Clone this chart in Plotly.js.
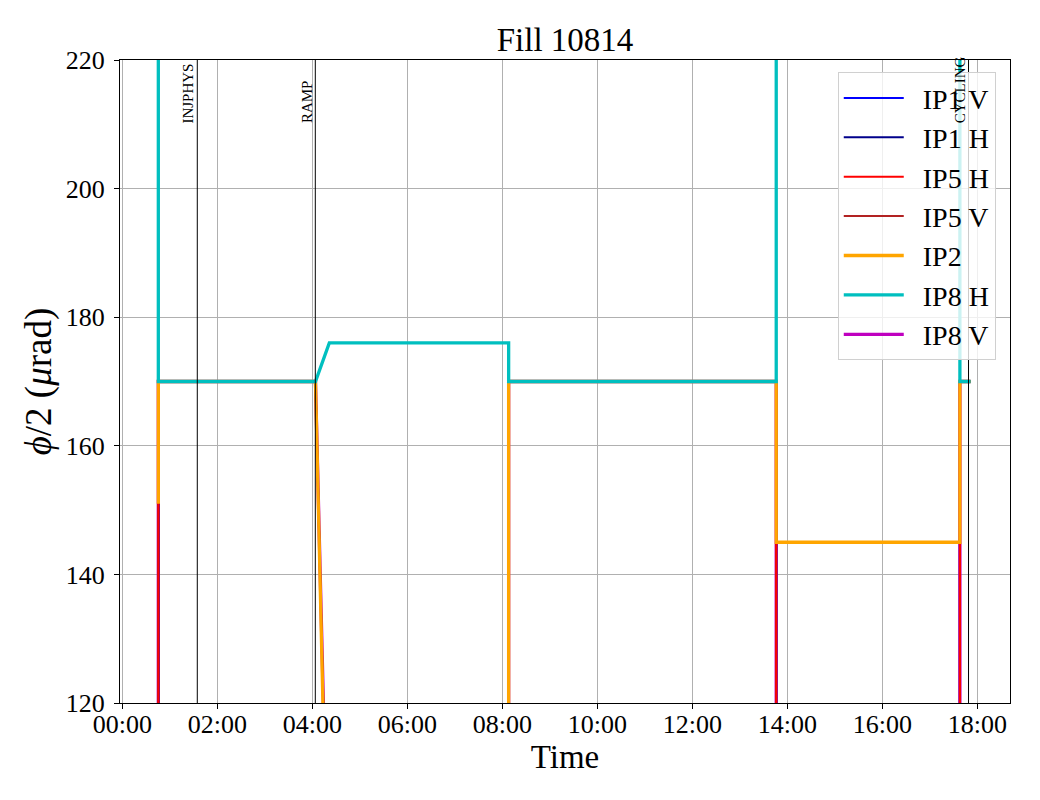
<!DOCTYPE html>
<html>
<head>
<meta charset="utf-8">
<script src="https://cdn.plot.ly/plotly-3.0.1.min.js"></script>
<style>html,body{margin:0;padding:0;background:#fff;}#chart{width:1040px;height:800px;}</style>
</head>
<body>
<div id="chart"></div>
<script>
const day = '2025-06-29 ';

// Series (times HH:MM:SS, crossing half-angle in µrad)
const tIP1V = ['00:45:30','00:45:30','04:04:00','04:37:00','08:08:00','08:08:00','13:46:00','13:46:00','17:38:00','17:38:00','17:51:30'];
const vIP1V = [0,170,170,0,0,170,170,0,0,170,170];
const tIP1H = ['00:45:30','00:45:30','04:04:00','04:37:00','08:08:00','08:08:00','13:46:00','13:46:00','17:38:00','17:38:00','17:51:30'];
const vIP1H = [0,170,170,0,0,170,170,0,0,170,170];
const tIP5H = ['00:45:30','00:45:30','04:04:00','04:37:00','08:08:00','08:08:00','13:46:00','13:46:00','17:38:00','17:38:00','17:51:30'];
const vIP5H = [0,170,170,0,0,170,170,0,0,170,170];
const tIP5V = ['00:45:30','00:45:30','04:04:00','04:38:00','08:08:00','08:08:00','13:46:00','13:46:00','17:38:00','17:38:00','17:51:30'];
const vIP5V = [0,170,170,0,0,170,170,0,0,170,170];
const tIP2  = ['00:45:30','00:45:30','04:04:00','04:36:00','08:08:00','08:08:00','13:46:00','13:46:00','17:38:00','17:38:00','17:51:30'];
const vIP2  = [151,170,170,0,0,170,170,145,145,170,170];
const tIP8H = ['00:45:30','00:45:30','04:04:00','04:21:30','08:08:00','08:08:00','13:46:00','13:46:00','17:38:00','17:38:00','17:51:30'];
const vIP8H = [260,170,170,176,176,170,170,260,260,170,170];
const tIP8V = ['00:45:30','00:45:30','04:04:00','04:38:00','08:08:00','08:08:00','13:46:00','13:46:00','17:38:00','17:38:00','17:51:30'];
const vIP8V = [0,170,170,0,0,170,170,0,0,170,170];

// Beam-mode events
const eventNames = ['INJPHYS','RAMP','CYCLING'];
const eventTimes = ['01:34:44','04:03:47','17:48:53'];
const eventLabelY = 210;

const yTicks = [120,140,160,180,200,220];

const FONT = 'Liberation Serif, Times New Roman, serif';
const withDay = a => a.map(t => day + t);
const LEGPAD = '\u2002';

function tr(name, t, v, color, width, rank) {
  return {x: withDay(t), y: v, name: LEGPAD + name, type: 'scatter', mode: 'lines',
          line: {color: color, width: width}, legendrank: rank,
          legendgroup: name, hoverinfo: 'skip'};
}

// draw order (bottom to top) differs from legend order
const data = [
  tr('IP8 V', tIP8V, vIP8V, '#bf00bf', 3.3, 7),
  tr('IP1 V', tIP1V, vIP1V, '#0000ff', 2, 1),
  tr('IP1 H', tIP1H, vIP1H, '#00008b', 2, 2),
  tr('IP5 V', tIP5V, vIP5V, '#b22222', 2, 4),
  tr('IP5 H', tIP5H, vIP5H, '#ff0000', 2, 3),
  tr('IP2',   tIP2,  vIP2,  '#ffa500', 3.3, 5),
  tr('IP8 H', tIP8H, vIP8H, '#00bfbf', 3.3, 6)
];

const shapes = eventTimes.map(t => ({
  type: 'line', xref: 'x', yref: 'paper', x0: day + t, x1: day + t, y0: 0, y1: 1,
  line: {color: '#000', width: 1}, layer: 'above'
}));
const annotations = eventNames.map((n, i) => ({
  xref: 'x', yref: 'y', x: day + eventTimes[i], y: eventLabelY, text: n,
  textangle: -90, showarrow: false, xanchor: 'right', yanchor: 'bottom',
  font: {family: FONT, size: 15, color: '#000'}, borderpad: 0, xshift: 0
}));

const layout = {
  width: 1040, height: 800,
  margin: {l: 120, r: 30, t: 60, b: 97},
  paper_bgcolor: '#fff', plot_bgcolor: '#fff',
  font: {family: FONT, color: '#000', size: 25},
  title: {text: 'Fill 10814', font: {family: FONT, size: 33, color: '#000'},
          x: 0.5, xref: 'paper', y: 0.951, yref: 'container', yanchor: 'middle'},
  xaxis: {
    type: 'date', range: [ '2025-06-28 23:57:06', '2025-06-29 18:41:17'],
    tickformat: '%H:%M', dtick: 7200000, tick0: '2025-06-29 00:00:00',
    showgrid: true, gridcolor: '#b0b0b0', gridwidth: 1,
    showline: true, linecolor: '#000', linewidth: 1, mirror: true,
    ticks: 'outside', ticklen: 5, tickwidth: 1, tickcolor: '#000',
    tickfont: {family: FONT, size: 26}, zeroline: false, ticklabelstandoff: -7,
    title: {text: 'Time', font: {family: FONT, size: 33}, standoff: 0}
  },
  yaxis: {
    range: [120, 220], tickvals: yTicks, ticktext: yTicks.map(String),
    showgrid: true, gridcolor: '#b0b0b0', gridwidth: 1,
    showline: true, linecolor: '#000', linewidth: 1, mirror: true,
    ticks: 'outside', ticklen: 5, tickwidth: 1, tickcolor: '#000',
    tickfont: {family: FONT, size: 26}, zeroline: false, ticklabelstandoff: 4,
    title: {text: '<i>ϕ</i>/2 (<i>μ</i>rad)', font: {family: FONT, size: 37}, standoff: 2}
  },
  legend: {
    x: 0.984, y: 0.981, xanchor: 'right', yanchor: 'top',
    bgcolor: 'rgba(255,255,255,0.8)', bordercolor: '#d0d0d0', borderwidth: 1,
    font: {family: FONT, size: 28, color: '#000'},
    itemwidth: 60, traceorder: 'normal'
  },
  shapes: shapes,
  annotations: annotations,
  showlegend: true
};

Plotly.newPlot('chart', data, layout, {displayModeBar: false, staticPlot: true});
</script>
</body>
</html>
